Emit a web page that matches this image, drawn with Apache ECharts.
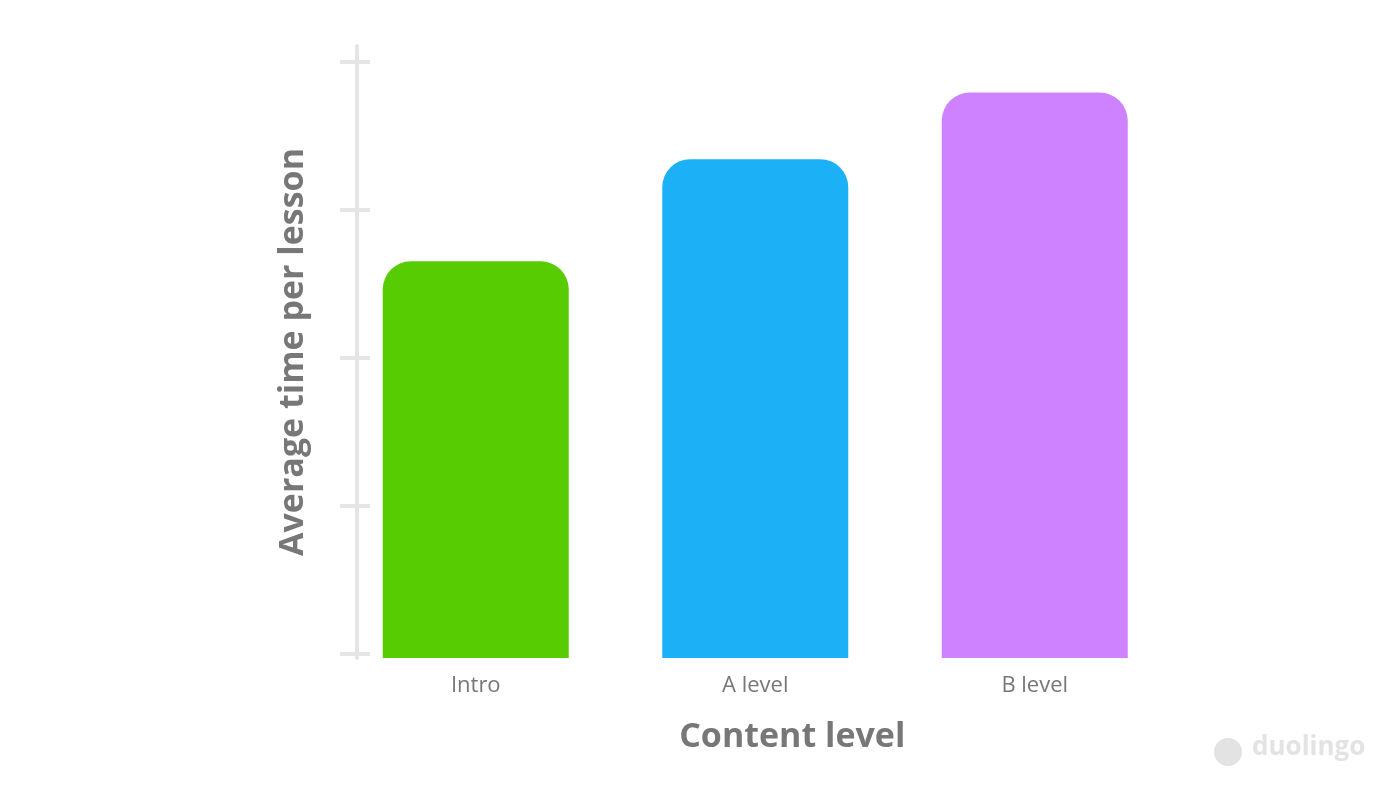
<!DOCTYPE html>
<html>
<head>
<meta charset="utf-8">
<script src="https://cdn.jsdelivr.net/npm/echarts@6/dist/echarts.min.js"></script>
<style>
html,body{margin:0;padding:0;background:#fff;}
#chart{width:1400px;height:800px;}
</style>
</head>
<body>
<div id="chart"></div>
<script>
// Data
const categories = ['Intro', 'A level', 'B level'];
const values = [2.68, 3.37, 3.82];
const barColors = ['#58cc02', '#1cb0f6', '#ce82ff'];
const tickValues = [0.03, 1.03, 2.03, 3.03, 4.03];
const yName = 'Average time per lesson';
const xName = 'Content level';

const chart = echarts.init(document.getElementById('chart'));
const axisGray = '#e5e5e5';
const textGray = '#777777';
const fontFam = '"Open Sans", "Noto Sans", sans-serif';

const baseY = {
  type: 'value', position: 'left', offset: -21, min: 0, max: 4.135,
  splitLine: { show: false },
  axisLabel: { show: false }
};

chart.setOption({
  backgroundColor: '#ffffff',
  animation: false,
  grid: { left: 336, width: 838.5, top: 46, bottom: 142, containLabel: false },
  xAxis: {
    type: 'category', data: categories,
    axisLine: { show: false }, axisTick: { show: false },
    axisLabel: { color: textGray, fontSize: 22, fontFamily: fontFam, margin: 17 },
    name: xName, nameLocation: 'middle', nameGap: 62,
    nameTextStyle: { color: textGray, fontSize: 34, fontWeight: 'bold', fontFamily: fontFam, padding: [0, 0, 0, 74] }
  },
  yAxis: [
    Object.assign({}, baseY, {
      axisLine: { show: true, lineStyle: { color: axisGray, width: 4 } },
      axisTick: { show: true, inside: true, length: 13, customValues: tickValues, lineStyle: { color: axisGray, width: 4 } },
      name: yName, nameLocation: 'middle', nameGap: 47,
      nameTextStyle: { color: textGray, fontSize: 34, fontWeight: 'bold', fontFamily: fontFam }
    }),
    Object.assign({}, baseY, {
      axisLine: { show: false },
      axisTick: { show: true, inside: false, length: 17, customValues: tickValues, lineStyle: { color: axisGray, width: 4 } }
    })
  ],
  series: [{
    type: 'bar', barWidth: 186, yAxisIndex: 0,
    data: values.map((v, i) => ({ value: v, itemStyle: { color: barColors[i], borderRadius: [28, 28, 0, 0] } }))
  }],
  graphic: [
    { type: 'text', left: 1252, top: 735, style: { text: 'duolingo', fill: '#e3e3e3', font: 'bold 26px ' + fontFam } },
    { type: 'circle', shape: { cx: 1228, cy: 752, r: 14 }, style: { fill: '#e3e3e3' } }
  ]
});
</script>
</body>
</html>
